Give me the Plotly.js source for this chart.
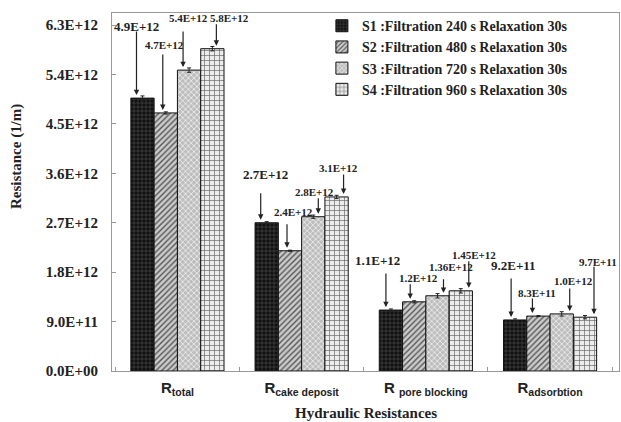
<!DOCTYPE html>
<html><head><meta charset="utf-8">
<script src="https://cdn.plot.ly/plotly-3.0.1.min.js"></script>
<style>html,body{margin:0;padding:0;background:#fff}#chart{width:621px;height:422px}</style>
</head><body><div id="chart"></div>
<script>
// ---- data ----
const categories = ['R<sub>total</sub>', 'R<sub>cake deposit</sub>', 'R <sub>pore blocking</sub>', 'R<sub>adsorbtion</sub>'];
const seriesNames = ['S1 :Filtration 240 s Relaxation 30s', 'S2 :Filtration 480 s Relaxation 30s',
                     'S3 :Filtration 720 s Relaxation 30s', 'S4 :Filtration 960 s Relaxation 30s'];
const valuesS1 = [4.97e12, 2.70e12, 1.11e12, 0.93e12];
const valuesS2 = [4.70e12, 2.19e12, 1.26e12, 1.00e12];
const valuesS3 = [5.48e12, 2.81e12, 1.37e12, 1.04e12];
const valuesS4 = [5.87e12, 3.17e12, 1.46e12, 0.98e12];
const errorsS1 = [0.04e12, 0.02e12, 0.02e12, 0.02e12];
const errorsS2 = [0.02e12, 0.01e12, 0.02e12, 0.01e12];
const errorsS3 = [0.04e12, 0.03e12, 0.04e12, 0.04e12];
const errorsS4 = [0.04e12, 0.03e12, 0.04e12, 0.03e12];
const labelsS1 = ['4.9E+12', '2.7E+12', '1.1E+12', '9.2E+11'];
const labelsS2 = ['4.7E+12', '2.4E+12', '1.2E+12', '8.3E+11'];
const labelsS3 = ['5.4E+12', '2.8E+12', '1.36E+12', '1.0E+12'];
const labelsS4 = ['5.8E+12', '3.1E+12', '1.45E+12', '9.7E+11'];
const yTickVals = [0, 0.9e12, 1.8e12, 2.7e12, 3.6e12, 4.5e12, 5.4e12, 6.3e12];
const yTickText = ['0.0E+00', '9.0E+11', '1.8E+12', '2.7E+12', '3.6E+12', '4.5E+12', '5.4E+12', '6.3E+12'];
const xTitle = 'Hydraulic Resistances';
const yTitle = 'Resistance (1/m)';

// ---- styling (pixel offsets for callout arrows / labels) ----
const values = [valuesS1, valuesS2, valuesS3, valuesS4];
const errors = [errorsS1, errorsS2, errorsS3, errorsS4];
const labels = [labelsS1, labelsS2, labelsS3, labelsS4];
const arrowDx = [[-6, -6, -5, -4], [-3, -3, -4, -6], [-6, 5, 6, 8], [4, 7, 8, 9]];
const arrowLen = [[68, 31, 38, 43], [60, 28, 19, 19], [40, 20, 18, 27], [26, 24, 31, 52]];
const textDx = [[0, 5, -8, 2], [2, 6, 8, 5], [5, -4, 7, 4], [13, -5, 5, 4]];
const textRise = [[72, 48, 50, 54], [68, 39, 24, 23], [52, 25, 29, 33], [31, 29, 36, 55]];
const labelSize = [13, 11, 11, 11];

const patterns = [
  {shape: '+', bgcolor: '#111111', fgcolor: '#4a4a4a', size: 4, solidity: 0.3},
  {shape: '/', bgcolor: '#cccccc', fgcolor: '#555555', size: 4, solidity: 0.35},
  {shape: 'x', bgcolor: '#bdbdbd', fgcolor: '#f2f2f2', size: 4, solidity: 0.35},
  {shape: '+', bgcolor: '#ececec', fgcolor: '#666666', size: 5, solidity: 0.25}
];

const bargap = 0.25;
const serif = 'Liberation Serif, Times New Roman, serif';

const traces = values.map((v, s) => ({
  type: 'bar', name: seriesNames[s], x: categories, y: v,
  marker: {color: patterns[s].bgcolor, pattern: patterns[s], line: {color: '#111', width: 1}},
  error_y: {type: 'data', array: errors[s], visible: true, color: '#222', thickness: 1, width: 2}
}));

const annotations = [];
const barW = (1 - bargap) / 4;
values.forEach((v, s) => {
  v.forEach((val, k) => {
    const xc = k + (s - 1.5) * barW;
    annotations.push({
      x: xc, y: val, xref: 'x', yref: 'y', text: '', showarrow: true,
      ax: 0, ay: -arrowLen[s][k], axref: 'pixel', ayref: 'pixel',
      xshift: arrowDx[s][k], standoff: 3,
      arrowhead: 2, arrowsize: 0.9, arrowwidth: 1.2, arrowcolor: '#222'
    });
    annotations.push({
      x: xc, y: val, xref: 'x', yref: 'y', text: labels[s][k], showarrow: false,
      xshift: arrowDx[s][k] + textDx[s][k], yshift: textRise[s][k], yanchor: 'middle',
      font: {family: serif, size: labelSize[s], weight: 'bold', color: '#222'}
    });
  });
});
annotations.push({
  xref: 'paper', yref: 'paper', x: -0.187, y: 0.598, xanchor: 'center', yanchor: 'middle',
  text: yTitle, textangle: -90, showarrow: false,
  font: {family: serif, size: 15, weight: 'bold', color: '#222'}
});
annotations.push({
  xref: 'paper', yref: 'paper', x: 0.5, y: 0, yshift: -42, xanchor: 'center', yanchor: 'middle',
  text: xTitle, showarrow: false,
  font: {family: serif, size: 15, weight: 'bold', color: '#222'}
});

const layout = {
  width: 621, height: 422,
  margin: {l: 112, r: 2, t: 13, b: 51},
  paper_bgcolor: '#fff', plot_bgcolor: '#fff',
  barmode: 'group', bargap: bargap, bargroupgap: 0,
  showlegend: true,
  legend: {x: 0.414, y: 1.008, xanchor: 'left', yanchor: 'top', bgcolor: 'rgba(0,0,0,0)',
           font: {family: serif, size: 14, weight: 'bold', color: '#222'}, tracegroupgap: 0},
  xaxis: {type: 'category', showline: true, linecolor: '#999', linewidth: 1, mirror: true,
          ticks: 'inside', tickson: 'boundaries', ticklen: 4, tickcolor: '#999',
          ticklabelstandoff: 3,
          showgrid: false, zeroline: false,
          tickfont: {family: 'Liberation Sans, Arial, sans-serif', size: 15, weight: 'bold', color: '#222'}},
  yaxis: {range: [0, 6.52e12], tickvals: yTickVals, ticktext: yTickText,
          showline: true, linecolor: '#999', linewidth: 1, mirror: true,
          ticks: 'inside', ticklen: 4, tickcolor: '#999', ticklabelstandoff: 10,
          showgrid: false, zeroline: false,
          tickfont: {family: serif, size: 15, weight: 'bold', color: '#222'}},
  annotations: annotations
};

Plotly.newPlot('chart', traces, layout, {displayModeBar: false, staticPlot: true});
</script></body></html>
